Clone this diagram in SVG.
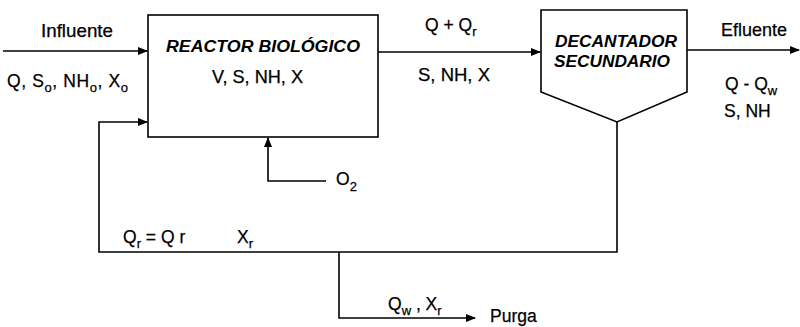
<svg xmlns="http://www.w3.org/2000/svg" width="800" height="327" viewBox="0 0 800 327">
<defs>
<marker id="arr" markerWidth="10" markerHeight="8" refX="9" refY="4" orient="auto" markerUnits="userSpaceOnUse">
<path d="M0,0 L10,4 L0,8 Z" fill="#000"/>
</marker>
<style>
.ln{fill:none;stroke:#000;stroke-width:1.6}
.box{fill:#fff;stroke:#000;stroke-width:1.6}
.t{font-family:"Liberation Sans",Arial,sans-serif;font-size:17.5px;fill:#000;stroke:#000;stroke-width:0.25}
.h{font-family:"Liberation Sans",Arial,sans-serif;font-size:16px;font-weight:bold;font-style:italic;fill:#000}
.s{font-size:13px}
</style>
</defs>
<rect width="800" height="327" fill="#fff"/>
<g id="connectors">
<path class="ln" d="M3,51 H147" marker-end="url(#arr)"/>
<path class="ln" d="M378,52 H540" marker-end="url(#arr)"/>
<path class="ln" d="M687,50 H799" marker-end="url(#arr)"/>
<path class="ln" d="M617,122 V252 H99 V122 H147" marker-end="url(#arr)"/>
<path class="ln" d="M339,252 V318 H475" marker-end="url(#arr)"/>
<path class="ln" d="M326,181 H268 V138" marker-end="url(#arr)"/>
</g>
<g id="reactor">
<rect class="box" x="148" y="15" width="230" height="122"/>
<text class="h" x="166" y="52" textLength="194" lengthAdjust="spacingAndGlyphs">REACTOR BIOLÓGICO</text>
<text class="t" x="212" y="83" textLength="91" lengthAdjust="spacingAndGlyphs">V, S, NH, X</text>
</g>
<g id="decantador">
<path class="box" d="M541,10 H687 V92 L617,122 L541,92 Z"/>
<text class="h" x="555" y="47" textLength="122" lengthAdjust="spacingAndGlyphs">DECANTADOR</text>
<text class="h" x="554" y="67" textLength="116" lengthAdjust="spacingAndGlyphs">SECUNDARIO</text>
</g>
<g id="labels">
<text class="t" x="41" y="37" textLength="72" lengthAdjust="spacingAndGlyphs">Influente</text>
<text class="t" x="7" y="87" letter-spacing="0.6">Q, S<tspan class="s" dy="5">o</tspan><tspan dy="-5">, NH</tspan><tspan class="s" dy="5">o</tspan><tspan dy="-5">, X</tspan><tspan class="s" dy="5">o</tspan></text>
<text class="t" x="425" y="31">Q + Q<tspan class="s" dy="5">r</tspan></text>
<text class="t" x="418" y="81" textLength="72" lengthAdjust="spacingAndGlyphs">S, NH, X</text>
<text class="t" x="721" y="36" textLength="66" lengthAdjust="spacingAndGlyphs">Efluente</text>
<text class="t" x="725" y="90">Q - Q<tspan class="s" dy="5">w</tspan></text>
<text class="t" x="724" y="117">S, NH</text>
<text class="t" x="336" y="185">O<tspan class="s" dy="6">2</tspan></text>
<text class="t" x="123" y="243">Q<tspan class="s" dy="5">r</tspan><tspan dy="-5"> = Q r</tspan></text>
<text class="t" x="237" y="243">X<tspan class="s" dy="5">r</tspan></text>
<text class="t" x="388" y="310">Q<tspan class="s" dy="5">w</tspan><tspan dy="-5"> , X</tspan><tspan class="s" dy="5">r</tspan></text>
<text class="t" x="490" y="322">Purga</text>
</g>
</svg>
